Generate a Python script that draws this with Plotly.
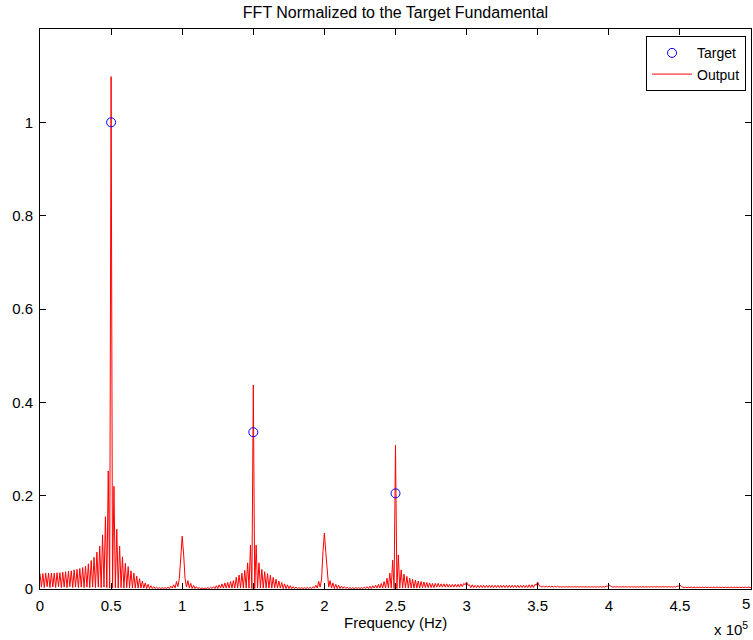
import numpy as np
import plotly.graph_objects as go

# FFT magnitude of the output, normalized to the target fundamental.
# One value per 1 kHz bin, grouped in 50 kHz bands.
bin_width_hz = 1000

out_000_049k = [
    0.033, 0.004, 0.033, 0.003, 0.034, 0.005, 0.034, 0.003, 0.034, 0.004,
    0.034, 0.003, 0.035, 0.005, 0.035, 0.003, 0.036, 0.004, 0.037, 0.003,
    0.038, 0.005, 0.039, 0.003, 0.041, 0.004, 0.042, 0.003, 0.044, 0.004,
    0.046, 0.003, 0.049, 0.004, 0.054, 0.003, 0.061, 0.004, 0.068, 0.003,
    0.079, 0.004, 0.092, 0.003, 0.116, 0.004, 0.155, 0.003, 0.253, 0.002,
]
out_050_099k = [
    1.098, 0.002, 0.220, 0.003, 0.128, 0.002, 0.092, 0.003, 0.069, 0.002,
    0.055, 0.003, 0.048, 0.002, 0.039, 0.002, 0.034, 0.002, 0.028, 0.002,
    0.022, 0.002, 0.017, 0.002, 0.013, 0.001, 0.010, 0.001, 0.007, 0.001,
    0.005, 0.001, 0.004, 0.001, 0.003, 0.001, 0.003, 0.001, 0.003, 0.001,
    0.004, 0.001, 0.006, 0.002, 0.009, 0.002, 0.016, 0.005, 0.023, 0.078,
]
out_100_149k = [
    0.113, 0.075, 0.023, 0.004, 0.018, 0.002, 0.012, 0.001, 0.008, 0.001,
    0.005, 0.001, 0.003, 0.001, 0.002, 0.001, 0.002, 0.001, 0.003, 0.001,
    0.004, 0.001, 0.005, 0.001, 0.007, 0.001, 0.009, 0.002, 0.011, 0.002,
    0.013, 0.002, 0.014, 0.002, 0.016, 0.002, 0.018, 0.002, 0.025, 0.002,
    0.030, 0.002, 0.034, 0.002, 0.040, 0.002, 0.056, 0.002, 0.094, 0.001,
]
out_150_199k = [
    0.437, 0.001, 0.094, 0.002, 0.056, 0.002, 0.042, 0.002, 0.037, 0.002,
    0.033, 0.002, 0.030, 0.002, 0.025, 0.002, 0.021, 0.002, 0.017, 0.002,
    0.014, 0.001, 0.011, 0.001, 0.009, 0.001, 0.007, 0.001, 0.005, 0.001,
    0.004, 0.001, 0.003, 0.001, 0.003, 0.001, 0.003, 0.001, 0.003, 0.001,
    0.004, 0.001, 0.005, 0.002, 0.008, 0.002, 0.016, 0.004, 0.021, 0.080,
]
out_200_249k = [
    0.120, 0.078, 0.030, 0.004, 0.018, 0.002, 0.013, 0.001, 0.010, 0.001,
    0.008, 0.001, 0.006, 0.001, 0.005, 0.001, 0.004, 0.001, 0.003, 0.001,
    0.003, 0.001, 0.003, 0.001, 0.003, 0.001, 0.003, 0.001, 0.004, 0.001,
    0.005, 0.001, 0.006, 0.001, 0.007, 0.002, 0.008, 0.002, 0.010, 0.002,
    0.012, 0.002, 0.016, 0.002, 0.023, 0.002, 0.034, 0.002, 0.062, 0.001,
]
out_250_299k = [
    0.308, 0.001, 0.073, 0.002, 0.041, 0.002, 0.032, 0.002, 0.027, 0.002,
    0.023, 0.002, 0.021, 0.002, 0.019, 0.002, 0.017, 0.002, 0.016, 0.003,
    0.015, 0.003, 0.014, 0.003, 0.013, 0.003, 0.012, 0.003, 0.012, 0.004,
    0.012, 0.004, 0.011, 0.004, 0.011, 0.004, 0.011, 0.004, 0.010, 0.004,
    0.010, 0.004, 0.010, 0.004, 0.010, 0.004, 0.011, 0.005, 0.012, 0.009,
]
out_300_349k = [
    0.015, 0.008, 0.009, 0.003, 0.009, 0.003, 0.008, 0.003, 0.008, 0.003,
    0.008, 0.003, 0.008, 0.003, 0.008, 0.003, 0.008, 0.003, 0.008, 0.003,
    0.008, 0.003, 0.008, 0.003, 0.008, 0.003, 0.008, 0.003, 0.008, 0.003,
    0.008, 0.003, 0.008, 0.003, 0.008, 0.003, 0.008, 0.003, 0.008, 0.003,
    0.008, 0.003, 0.008, 0.003, 0.009, 0.003, 0.009, 0.003, 0.010, 0.008,
]
out_350_399k = [
    0.015, 0.007, 0.006, 0.004, 0.006, 0.004, 0.006, 0.004, 0.006, 0.004,
    0.006, 0.004, 0.006, 0.004, 0.006, 0.004, 0.005, 0.004, 0.005, 0.004,
    0.005, 0.004, 0.005, 0.004, 0.005, 0.004, 0.005, 0.004, 0.005, 0.004,
    0.005, 0.004, 0.005, 0.004, 0.005, 0.004, 0.005, 0.004, 0.005, 0.004,
    0.005, 0.004, 0.005, 0.004, 0.005, 0.004, 0.005, 0.004, 0.006, 0.006,
]
out_400_449k = [
    0.009, 0.006, 0.005, 0.004, 0.005, 0.004, 0.005, 0.004, 0.005, 0.004,
    0.005, 0.004, 0.005, 0.004, 0.005, 0.004, 0.005, 0.004, 0.005, 0.004,
    0.005, 0.004, 0.005, 0.004, 0.005, 0.004, 0.005, 0.004, 0.005, 0.004,
    0.005, 0.004, 0.005, 0.004, 0.005, 0.004, 0.005, 0.004, 0.005, 0.004,
    0.005, 0.004, 0.005, 0.004, 0.005, 0.004, 0.005, 0.004, 0.006, 0.006,
]
out_450_500k = [
    0.009, 0.005, 0.004, 0.003, 0.004, 0.003, 0.004, 0.003, 0.004, 0.003,
    0.004, 0.003, 0.004, 0.003, 0.004, 0.003, 0.004, 0.003, 0.004, 0.003,
    0.004, 0.003, 0.004, 0.003, 0.004, 0.003, 0.004, 0.003, 0.004, 0.003,
    0.004, 0.003, 0.004, 0.003, 0.004, 0.003, 0.004, 0.003, 0.004, 0.003,
    0.004, 0.003, 0.004, 0.003, 0.004, 0.003, 0.004, 0.003, 0.004, 0.003,
    0.003,
]

output_mag = (out_000_049k + out_050_099k + out_100_149k + out_150_199k
              + out_200_249k + out_250_299k + out_300_349k + out_350_399k
              + out_400_449k + out_450_500k)
output_freq = np.arange(len(output_mag)) * bin_width_hz

# Target harmonic amplitudes
target_freq = [50000, 150000, 250000]
target_mag = [1.0, 0.336, 0.205]

x_tick_vals = [0, 50000, 100000, 150000, 200000, 250000,
               300000, 350000, 400000, 450000, 500000]
x_tick_text = ["0", "0.5", "1", "1.5", "2", "2.5", "3", "3.5", "4", "4.5", "5"]
y_tick_vals = [0, 0.2, 0.4, 0.6, 0.8, 1.0]
y_tick_text = ["0", "0.2", "0.4", "0.6", "0.8", "1"]

FONT = "Liberation Sans, Arial, Helvetica, sans-serif"
BLACK = "black"

fig = go.Figure()
fig.add_trace(go.Scatter(
    x=output_freq, y=output_mag, mode="lines", name="Output",
    line=dict(color="#ff0000", width=1), legendrank=2,
))
fig.add_trace(go.Scatter(
    x=target_freq, y=target_mag, mode="markers", name="Target",
    marker=dict(symbol="circle-open", size=9, color="#0000ff",
                line=dict(width=1, color="#0000ff")),
    legendrank=1,
))

axis_common = dict(
    showline=True, linecolor=BLACK, linewidth=1, mirror="ticks",
    ticks="inside", ticklen=6, tickcolor=BLACK, tickwidth=1,
    showgrid=False, zeroline=False,
    tickfont=dict(family=FONT, size=15, color=BLACK),
)

# The last x tick label sits on the figure edge, so it is drawn as an
# annotation aligned to the right edge and the axis keeps only the tick mark.
x_axis_text = x_tick_text[:-1] + [""]

fig.update_xaxes(range=[0, 500000], tickvals=x_tick_vals, ticktext=x_axis_text,
                 ticklabelstandoff=3, **axis_common)
fig.update_yaxes(range=[0, 1.2], tickvals=y_tick_vals, ticktext=y_tick_text,
                 ticklabelstandoff=3, **axis_common)

fig.update_layout(
    width=753, height=640,
    margin=dict(l=40, r=2, t=29, b=51),
    paper_bgcolor="white", plot_bgcolor="white",
    font=dict(family=FONT, size=15, color=BLACK),
    title=dict(text="FFT Normalized to the Target Fundamental",
               x=0.5, xref="paper", xanchor="center",
               y=1 - 12 / 640, yref="container", yanchor="middle",
               font=dict(family=FONT, size=16, color=BLACK)),
    legend=dict(x=0.993, y=0.987, xanchor="right", yanchor="top",
                bgcolor="white", bordercolor=BLACK, borderwidth=1,
                font=dict(family=FONT, size=14, color=BLACK),
                itemwidth=40, tracegroupgap=0),
    annotations=[
        dict(text=x_tick_text[-1], x=1, y=0, xref="paper",
             yref="paper", xanchor="right", yanchor="top", yshift=-4,
             xshift=1, showarrow=False,
             font=dict(family=FONT, size=15, color=BLACK)),
        dict(text="Frequency (Hz)", x=0.5, y=0, xref="paper", yref="paper",
             xanchor="center", yanchor="top", yshift=-23, showarrow=False,
             font=dict(family=FONT, size=15, color=BLACK)),
        dict(text="x 10<sup>5</sup>", x=1, y=0, xref="paper", yref="paper",
             xanchor="right", yanchor="top", yshift=-28, xshift=-1,
             showarrow=False,
             font=dict(family=FONT, size=15, color=BLACK)),
    ],
)

fig.write_html("out.html")
